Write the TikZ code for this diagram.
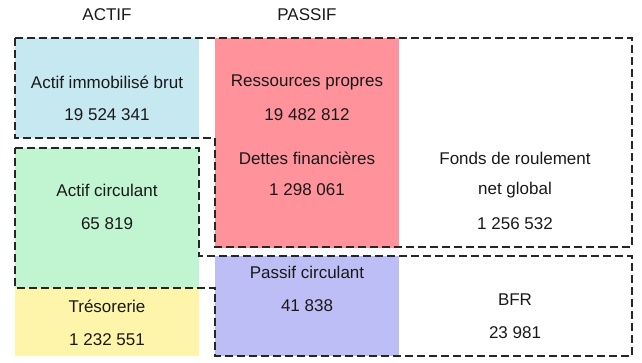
\documentclass[tikz,border=0pt]{standalone}
\usepackage{fontspec}
\setmainfont{Liberation Sans}
\begin{document}
\begin{tikzpicture}[x=1pt,y=-1pt,
  lbl/.style={font=\fontsize{17}{20}\selectfont, text=black!90, inner sep=0pt, anchor=center},
  outline/.style={draw=black!85, line width=1.8pt, dash pattern=on 8pt off 4pt}]
\useasboundingbox (0,0) rectangle (642,362);
\definecolor{cblue}{HTML}{C6E8F1}
\definecolor{cgreen}{HTML}{C1F5D1}
\definecolor{cyellow}{HTML}{FFF5AA}
\definecolor{cred}{HTML}{FF929A}
\definecolor{cpurple}{HTML}{BEBEF6}
% coloured cells
\fill[cblue] (15,38) rectangle (199,138);
\fill[cgreen] (15,148) rectangle (199,288);
\fill[cyellow] (15,288) rectangle (199,356);
\fill[cred] (215,38) rectangle (399,248);
\fill[cpurple] (215,256) rectangle (399,356);
% dashed outlines
\draw[outline] (15,38) -- (632,38) -- (632,247) -- (215,247) -- (215,138) -- (15,138) -- cycle;
\draw[outline] (15,148) -- (199,148) -- (199,256) -- (632,256) -- (632,356) -- (215,356) -- (215,288) -- (15,288) -- cycle;
% headers
\node[lbl] (actif) at (107,15) {ACTIF};
\node[lbl] (passif) at (307,15) {PASSIF};
% texts
\node[lbl] (aib) at (107,82) {Actif immobilisé brut};
\node[lbl] (aibv) at (107,115) {19 524 341};
\node[lbl] (rp) at (307,82) {Ressources propres};
\node[lbl] (rpv) at (307,115) {19 482 812};
\node[lbl] (df) at (307,158) {Dettes financières};
\node[lbl] (dfv) at (307,190) {1 298 061};
\node[lbl] (fr1) at (515,158) {Fonds de roulement};
\node[lbl] (fr2) at (515,190) {net global};
\node[lbl] (frv) at (515,224) {1 256 532};
\node[lbl] (ac) at (107,190) {Actif circulant};
\node[lbl] (acv) at (107,224) {65 819};
\node[lbl] (tr) at (107,306) {Trésorerie};
\node[lbl] (trv) at (107,340) {1 232 551};
\node[lbl] (pc) at (307,272) {Passif circulant};
\node[lbl] (pcv) at (307,306) {41 838};
\node[lbl] (bfr) at (515,300) {BFR};
\node[lbl] (bfrv) at (515,333) {23 981};
\end{tikzpicture}
\end{document}
